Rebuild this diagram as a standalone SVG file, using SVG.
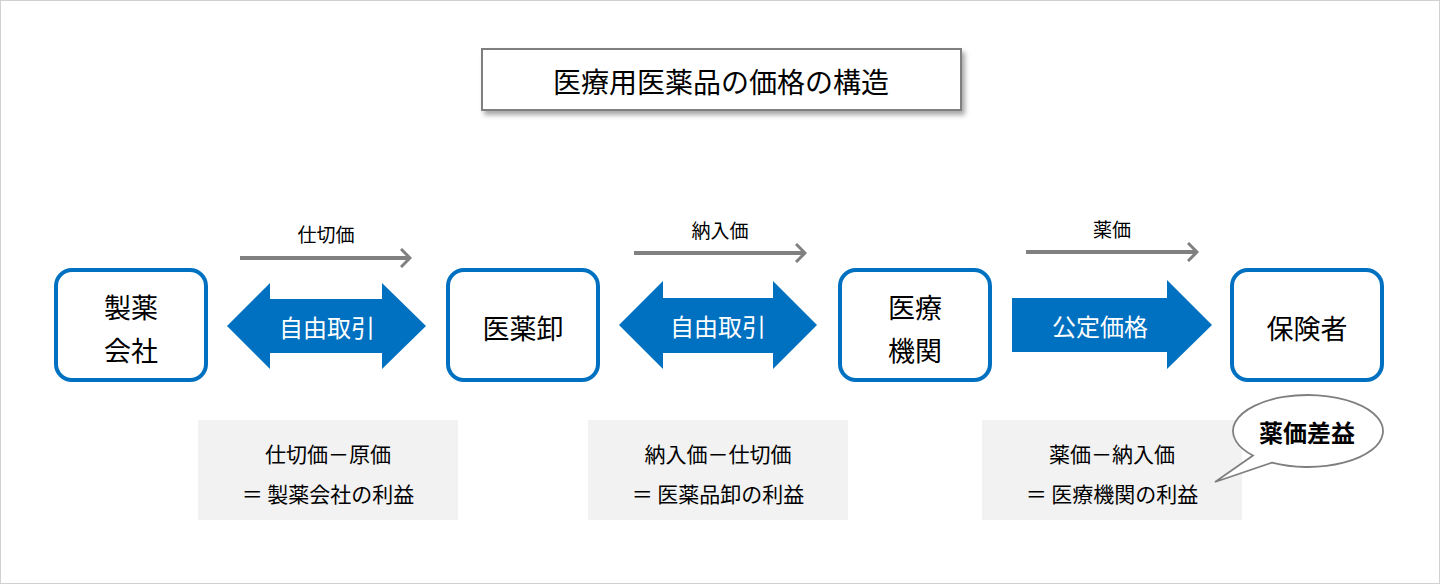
<svg xmlns="http://www.w3.org/2000/svg" width="1440" height="584" viewBox="0 0 1440 584">
<defs>
<style>
text{font-family:"Noto Sans CJK JP","Noto Sans",sans-serif;text-anchor:middle;dominant-baseline:central;fill:#000}
.node{fill:#fff;stroke:#0070C0;stroke-width:4}
.big{fill:#0070C0}
.wt{fill:#fff;font-size:24px}
.nt{font-size:27px}
.lbl{font-size:19px}
.bx{fill:#f2f2f2}
.bt{font-size:21px}
.price{stroke:#808080;stroke-width:4;fill:none}
</style>
<marker id="chev" viewBox="0 0 12 20" refX="10" refY="10" markerWidth="12" markerHeight="20" orient="auto" markerUnits="userSpaceOnUse">
<path d="M1,1 L10,10 L1,19" fill="none" stroke="#808080" stroke-width="3"/>
</marker>
<filter id="sh" x="-10%" y="-30%" width="120%" height="170%">
<feDropShadow dx="3" dy="4" stdDeviation="2.5" flood-color="#000" flood-opacity="0.35"/>
</filter>
</defs>
<rect x="0.5" y="0.5" width="1439" height="583" fill="#fff" stroke="#d0d0d0"/>

<g id="title">
<rect x="482" y="49" width="479" height="61" fill="#fff" stroke="#7f7f7f" stroke-width="2" filter="url(#sh)"/>
<text x="721" y="81" font-size="28">医療用医薬品の価格の構造</text>
</g>

<g id="node-maker">
<rect class="node" x="56" y="270" width="150" height="110" rx="16"/>
<text class="nt" x="131" y="306">製薬</text>
<text class="nt" x="131" y="349">会社</text>
</g>
<g id="node-wholesaler">
<rect class="node" x="448" y="270" width="150" height="110" rx="16"/>
<text class="nt" x="523" y="327">医薬卸</text>
</g>
<g id="node-hospital">
<rect class="node" x="840" y="270" width="150" height="110" rx="16"/>
<text class="nt" x="915" y="306">医療</text>
<text class="nt" x="915" y="349">機関</text>
</g>
<g id="node-insurer">
<rect class="node" x="1232" y="270" width="150" height="110" rx="16"/>
<text class="nt" x="1307" y="327">保険者</text>
</g>

<g id="connectors">
<g id="arrow-free1">
<polygon class="big" points="227,326 270,283 270,299 382,299 382,283 426,326 382,369 382,353 270,353 270,369"/>
<text class="wt" x="327" y="326">自由取引</text>
</g>
<g id="arrow-free2">
<polygon class="big" points="619,325 663,281 663,298 773,298 773,281 817,325 773,369 773,353 663,353 663,369"/>
<text class="wt" x="718" y="325">自由取引</text>
</g>
<g id="arrow-official">
<polygon class="big" points="1012,298 1167,298 1167,280 1212,325 1167,369 1167,352 1012,352"/>
<text class="wt" x="1100" y="325">公定価格</text>
</g>
<line class="price" x1="240" y1="258" x2="410" y2="258" marker-end="url(#chev)"/>
<text class="lbl" x="326" y="233">仕切価</text>
<line class="price" x1="634" y1="253" x2="805" y2="253" marker-end="url(#chev)"/>
<text class="lbl" x="720" y="229">納入価</text>
<line class="price" x1="1026" y1="252" x2="1197" y2="252" marker-end="url(#chev)"/>
<text class="lbl" x="1112" y="228">薬価</text>
</g>

<g id="box-maker">
<rect class="bx" x="198" y="420" width="260" height="100"/>
<text class="bt" x="328" y="453">仕切価－原価</text>
<text class="bt" x="328" y="493">＝ 製薬会社の利益</text>
</g>
<g id="box-wholesaler">
<rect class="bx" x="588" y="420" width="260" height="100"/>
<text class="bt" x="718" y="453">納入価－仕切価</text>
<text class="bt" x="718" y="493">＝ 医薬品卸の利益</text>
</g>
<g id="box-hospital">
<rect class="bx" x="982" y="420" width="260" height="100"/>
<text class="bt" x="1112" y="453">薬価－納入価</text>
<text class="bt" x="1112" y="493">＝ 医療機関の利益</text>
</g>

<g id="callout">
<path d="M1253,455.5 L1215,482 L1272,462.6 A75,36 0 1 0 1253,455.5 Z" fill="#fff" stroke="#7f7f7f" stroke-width="1.8"/>
<text x="1307" y="431" font-size="24" font-weight="bold">薬価差益</text>
</g>
</svg>
